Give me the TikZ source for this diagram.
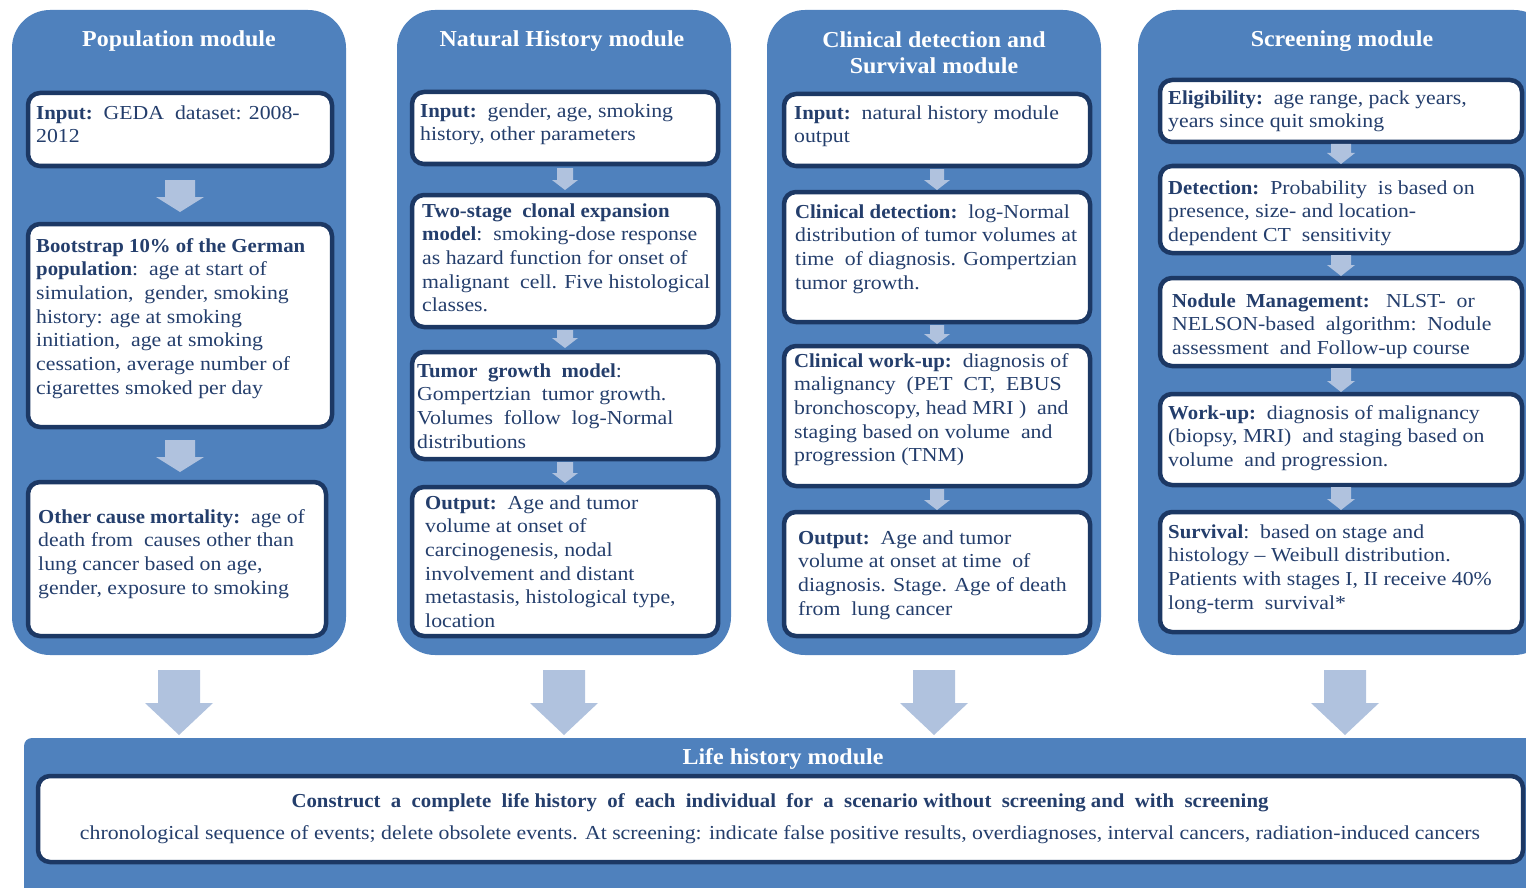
\documentclass[tikz,border=0pt]{standalone}
\usepackage{fontspec}
\setmainfont[FakeStretch=1.1, BoldFeatures={FakeStretch=1.05}]{Liberation Serif}
\usetikzlibrary{calc}

\definecolor{modfill}{RGB}{79,129,189}
\definecolor{boxline}{RGB}{28,56,100}
\definecolor{txt}{RGB}{36,62,108}
\definecolor{arrowcol}{RGB}{176,194,222}

\tikzset{
  module/.style={fill=modfill, rounded corners=38pt, anchor=north west, inner sep=0pt, outer sep=0pt},
  stepbox/.style={draw=boxline, line width=4.5pt, fill=white, rounded corners=12pt,
    anchor=north west, inner sep=0pt, outer sep=0pt},
  body/.style={anchor=north west, inner sep=0pt, align=left, text=txt,
    font=\fontsize{19.8}{23.7}\selectfont},
  modtitle/.style={anchor=base, inner sep=0pt, align=center, text=white,
    font=\bfseries\fontsize{22.8}{26}\selectfont},
  arrowfill/.style={fill=arrowcol},
}

% box with its text: name, x, y, width, height, text dx, first baseline dy, text
\newcommand{\modstep}[8]{%
  \node[stepbox, minimum width=#4pt, minimum height=#5pt] (#1) at (#2,#3) {};
  \node[body] (#1-text) at ($(#1.north west)+(#6,#7-16.6)$) {\strut #8};
}

% block arrow from one node anchor down to another:
% from, to, gap below from, gap above to, shaft half width, head half width, head length
\newcommand{\blockarrow}[7]{%
  \fill[arrowfill] let \p1=(#1), \p2=(#2) in
    (\x1-#5pt,\y1-#3pt) -- (\x1+#5pt,\y1-#3pt) -- (\x1+#5pt,\y2+#4pt+#7pt)
    -- (\x1+#6pt,\y2+#4pt+#7pt) -- (\x1,\y2+#4pt) -- (\x1-#6pt,\y2+#4pt+#7pt)
    -- (\x1-#5pt,\y2+#4pt+#7pt) -- cycle;
}

\begin{document}
\begin{tikzpicture}[x=1pt,y=-1pt]
\path[use as bounding box, clip] (0,0) rectangle (1526,888);

% module columns
\node[module, minimum width=334pt, minimum height=645pt] (popmod) at (12,10) {};
\node[module, minimum width=334pt, minimum height=645pt] (natmod) at (397,10) {};
\node[module, minimum width=334pt, minimum height=645pt] (climod) at (767,10) {};
\node[module, minimum width=414pt, minimum height=645pt] (scrmod) at (1138,10) {};

% life history band
\node[fill=modfill, rounded corners=8pt, anchor=north west, inner sep=0pt, outer sep=0pt,
      minimum width=1600pt, minimum height=200pt] (lifemod) at (24,738) {};

% module titles
\node[modtitle] (poptitle) at (179,47) {Population module};
\node[modtitle] (nattitle) at (562,47) {Natural History module};
\node[modtitle, anchor=north] (clititle) at (934,28.8) {\strut Clinical detection and\\Survival module};
\node[modtitle] (scrtitle) at (1342,47) {Screening module};
\node[modtitle] (lifetitle) at (783,764) {Life history module};

% population module
\modstep{p1}{28}{93}{304}{73}{8}{26}{\textbf{Input:}\ \ GEDA\ \ dataset: 2008-\\2012}
\modstep{p2}{28}{224}{304}{203}{8}{28}{\textbf{Bootstrap\ 10\% of the German}\\\textbf{population}:\ \ age at start of\\simulation,\ \ gender, smoking\\history: age at smoking\\initiation,\ \ age at smoking\\cessation, average number of\\cigarettes smoked per day}
\modstep{p3}{28}{482}{298}{154}{10}{41}{\textbf{Other cause mortality:}\ \ age of\\death from\ \ causes other than\\lung cancer based on age,\\gender, exposure to smoking}

% natural history module
\modstep{n1}{412}{92}{306}{72}{8}{25}{\textbf{Input:}\ \ gender, age, smoking\\history, other parameters}
\modstep{n2}{412}{195}{306}{132}{10}{22}{\textbf{Two-stage\ \ clonal expansion}\\\textbf{model}:\ \ smoking-dose response\\as hazard function for onset of\\malignant\ \ cell. Five histological\\classes.}
\modstep{n3}{412}{352}{306}{107}{5}{25}{\textbf{Tumor\ \ growth\ \ model}:\\Gompertzian\ \ tumor growth.\\Volumes\ \ follow\ \ log-Normal\\distributions}
\modstep{n4}{412}{487}{306}{149}{13}{22}{\textbf{Output:}\ \ Age and tumor\\volume at onset of\\carcinogenesis, nodal\\involvement and distant\\metastasis, histological type,\\location}

% clinical detection and survival module
\modstep{c1}{784}{94}{306}{72}{10}{25}{\textbf{Input:}\ \ natural history module\\output}
\modstep{c2}{784}{192}{306}{130}{11}{26}{\textbf{Clinical detection:}\ \ log-Normal\\distribution of tumor volumes at\\time\ \ of diagnosis. Gompertzian\\tumor growth.}
\modstep{c3}{784}{346}{306}{140}{10}{21}{\textbf{Clinical work-up:}\ \ diagnosis of\\malignancy\ \ (PET\ \ CT,\ \ EBUS\\bronchoscopy, head MRI )\ \ and\\staging based on volume\ \ and\\progression (TNM)}
\modstep{c4}{784}{512}{306}{124}{14}{32}{\textbf{Output:}\ \ Age and tumor\\volume at onset at time\ \ of\\diagnosis. Stage. Age of death\\from\ \ lung cancer}

% screening module
\modstep{s1}{1160}{80}{362}{62}{8}{24}{\textbf{Eligibility:}\ \ age range, pack years,\\years since quit smoking}
\modstep{s2}{1160}{166}{362}{87}{8}{28}{\textbf{Detection:}\ \ Probability\ \ is based on\\presence, size- and location-\\dependent CT\ \ sensitivity}
\modstep{s3}{1160}{278}{362}{88}{12}{29}{\textbf{Nodule\ \ Management:}\ \ \ NLST-\ \ or\\NELSON-based\ \ algorithm:\ \ Nodule\\assessment\ \ and Follow-up course}
\modstep{s4}{1160}{394}{362}{91}{8}{25}{\textbf{Work-up:}\ \ diagnosis of malignancy\\(biopsy, MRI)\ \ and staging based on\\volume\ \ and progression.}
\modstep{s5}{1160}{512}{362}{120}{8}{26}{\textbf{Survival}:\ \ based on stage and\\histology -- Weibull distribution.\\Patients with stages I, II receive 40\%\\long-term\ \ survival*}

% life history box
\node[stepbox, minimum width=1485pt, minimum height=86pt] (life) at (38,776) {};
\node[anchor=base, inner sep=0pt, text=txt, font=\bfseries\fontsize{19.8}{24}\selectfont] (lifehead) at (780,807)
  {Construct\ \ a\ \ complete\ \ life history\ \ of\ \ each\ \ individual\ \ for\ \ a\ \ scenario without\ \ screening and\ \ with\ \ screening};
\node[anchor=base, inner sep=0pt, text=txt, font=\fontsize{19.8}{24}\selectfont] (lifebody) at (780,839)
  {chronological sequence of events; delete obsolete events. At screening: indicate false positive results, overdiagnoses, interval cancers, radiation-induced cancers};

% arrows inside the modules
\blockarrow{p1.south}{p2.north}{14}{12}{15}{24}{15}
\blockarrow{p2.south}{p3.north}{13}{10}{15}{24}{15}
\blockarrow{n1.south}{n2.north}{4}{5}{8}{13}{10}
\blockarrow{n2.south}{n3.north}{3}{4}{8}{13}{10}
\blockarrow{n3.south}{n4.north}{3}{4}{8}{13}{10}
\blockarrow{c1.south}{c2.north}{3}{2}{7}{13}{10}
\blockarrow{c2.south}{c3.north}{3}{2}{7}{13}{10}
\blockarrow{c3.south}{c4.north}{3}{2}{7}{13}{10}
\blockarrow{s1.south}{s2.north}{2}{2}{10}{14}{11}
\blockarrow{s2.south}{s3.north}{2}{2}{10}{14}{11}
\blockarrow{s3.south}{s4.north}{2}{2}{10}{14}{11}
\blockarrow{s4.south}{s5.north}{2}{2}{10}{14}{11}

% arrows into the life history module
\blockarrow{popmod.south}{lifemod.north}{15}{3}{21}{34}{32}
\blockarrow{natmod.south}{lifemod.north}{15}{3}{21}{34}{32}
\blockarrow{climod.south}{lifemod.north}{15}{3}{21}{34}{32}
\blockarrow{scrmod.south}{lifemod.north}{15}{3}{21}{34}{32}
\end{tikzpicture}
\end{document}
